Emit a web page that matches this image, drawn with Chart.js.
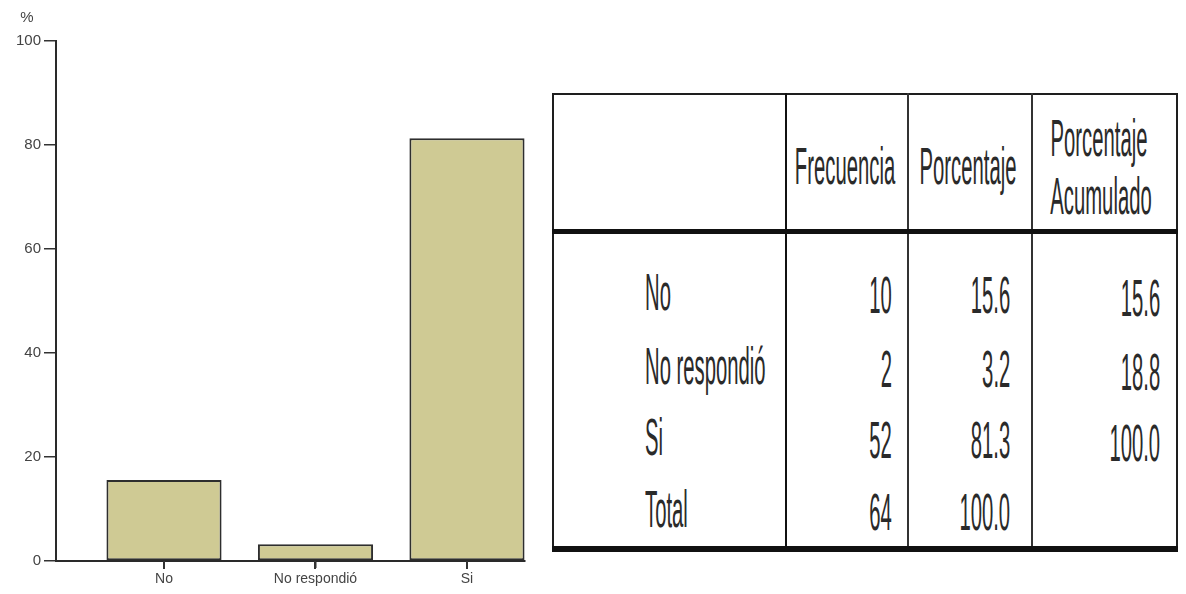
<!DOCTYPE html>
<html>
<head>
<meta charset="utf-8">
<script src="https://cdn.jsdelivr.net/npm/chart.js@4/dist/chart.umd.min.js"></script>
<style>
  html,body{margin:0;padding:0;background:#fff;}
  #wrap{position:relative;width:1186px;height:594px;overflow:hidden;background:#fff;}
  #chartBox{position:absolute;left:0;top:0;width:540px;height:594px;}
  .ln{position:absolute;background:#1e1e1e;}
  .tx{position:absolute;font-family:"Liberation Sans",Arial,sans-serif;font-size:52px;line-height:52px;
      color:#2a2a2a;white-space:nowrap;}
</style>
</head>
<body>
<div id="wrap">
  <div id="chartBox"><canvas id="c" width="540" height="594"></canvas></div>
  <div id="table"></div>
</div>
<script>
// ---- chart data ----
const categories=['No','No respondió','Si'];
const percents=[15.6,3.2,81.3];
const yTicks=[0,20,40,60,80,100];

// ---- table data ----
const headers=[['Frecuencia'],['Porcentaje'],['Porcentaje','Acumulado']];
const rowLabels=['No','No respondió','Si','Total'];
const frequencies=['10','2','52','64'];
const percentCol=['15.6','3.2','81.3','100.0'];
const cumulative=['15.6','18.8','100.0',''];

const FONT='"Liberation Sans", Arial, sans-serif';

// "%" above the y axis + little tick marks under the category axis
const extras={
  id:'extras',
  afterDraw(chart){
    const c=chart.ctx;
    c.save();
    c.font='15px '+FONT;
    c.fillStyle='#444';
    c.textAlign='center';
    c.textBaseline='middle';
    c.fillText('%',27,18);
    const xs=chart.scales.x;
    const y0=chart.chartArea.bottom;
    c.fillStyle='#333';
    categories.forEach((cat,i)=>{
      const px=Math.round(xs.getPixelForValue(i));
      c.fillRect(px-1,y0,2,8);
    });
    c.restore();
  }
};

new Chart(document.getElementById('c').getContext('2d'),{
  type:'bar',
  data:{datasets:[{
    data:categories.map((c,i)=>({x:i,y:percents[i]})),
    backgroundColor:'#cfca94',
    borderColor:'#2e2e2e',
    borderWidth:2,
    borderSkipped:false,
    barPercentage:0.76,
    categoryPercentage:1
  }]},
  options:{
    responsive:false,animation:false,devicePixelRatio:1,
    layout:{padding:{top:41,right:15,left:0,bottom:0}},
    plugins:{legend:{display:false},tooltip:{enabled:false}},
    scales:{
      x:{
        type:'linear',min:-0.713,max:2.383,offset:false,
        afterBuildTicks:s=>{s.ticks=categories.map((c,i)=>({value:i}));},
        afterFit:s=>{s.height=33;},
        ticks:{callback:v=>categories[v],font:{family:FONT,size:14},color:'#444',padding:3,autoSkip:false,maxRotation:0},
        grid:{offset:false,drawOnChartArea:false,tickLength:7,color:'#333',tickColor:'#333',lineWidth:1.5},
        border:{display:true,color:'#2a2a2a',width:2}
      },
      y:{
        min:0,max:100,
        afterBuildTicks:s=>{s.ticks=yTicks.map(v=>({value:v}));},
        afterFit:s=>{s.width=56;},
        ticks:{font:{family:FONT,size:15},color:'#444',padding:3},
        grid:{drawOnChartArea:false,tickLength:12,color:'#333',lineWidth:1.5},
        border:{display:true,color:'#2a2a2a',width:2}
      }
    }
  },
  plugins:[extras]
});

// ---- frequency table ----
const T=document.getElementById('table');
function line(x,y,w,h,col){
  const d=document.createElement('div');
  d.className='ln';
  d.style.cssText=`left:${x}px;top:${y}px;width:${w}px;height:${h}px;`+(col?`background:${col};`:'');
  T.appendChild(d);
}
// cap center ~25px below the top of a 52px line box
function text(str,x,yc,align){
  if(!str)return;
  const s=document.createElement('div');
  s.className='tx';
  s.textContent=str;
  s.style.top=(yc-25)+'px';
  if(align==='left'){s.style.left=x+'px';s.style.transformOrigin='left center';s.style.transform='scaleX(0.39)';}
  else if(align==='right'){s.style.right=(1186-x)+'px';s.style.transformOrigin='right center';s.style.transform='scaleX(0.39)';}
  else{s.style.left=x+'px';s.style.transformOrigin='center center';s.style.transform='translateX(-50%) scaleX(0.39)';}
  T.appendChild(s);
}

const colX=[553,786,908,1032,1178];
line(552,93,626,2);            // top
line(552,93,2,458);            // left
line(1176,93,2,458);           // right
line(785,93,2,454,'#111');     // col dividers
line(907,93,2,454,'#333');
line(1031,93,2,454,'#333');
line(552,229,626,5,'#111');    // header separator
line(552,546,626,6,'#111');    // bottom

text(headers[0][0],(colX[1]+colX[2])/2-2,165,'center');
text(headers[1][0],(colX[2]+colX[3])/2-2,165,'center');
text(headers[2][0],(colX[3]+colX[4])/2-6,137,'center');
text(headers[2][1],(colX[3]+colX[4])/2-4,195,'center');

const rowY=[291,365,436,508];
rowLabels.forEach((lab,i)=>{
  text(lab,645,rowY[i],'left');
  text(frequencies[i],892,rowY[i]+3,'right');
  text(percentCol[i],1010,rowY[i]+3,'right');
  text(cumulative[i],1160,rowY[i]+6,'right');
});
</script>
</body>
</html>
